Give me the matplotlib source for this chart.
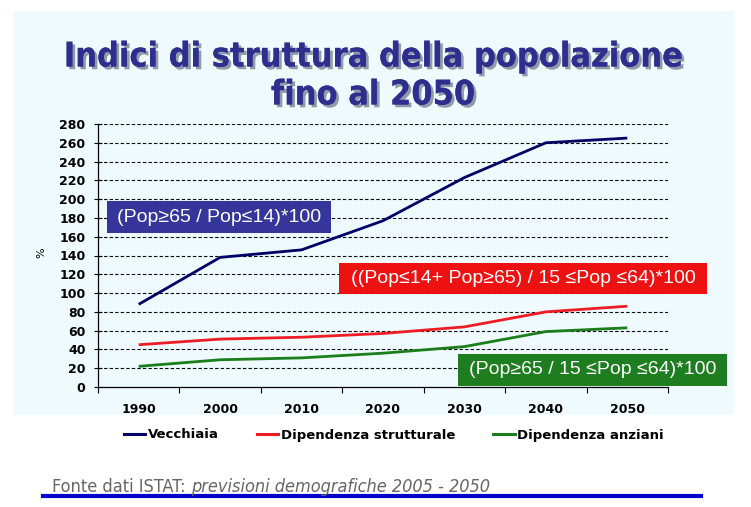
import matplotlib
matplotlib.use("Agg")
import matplotlib.pyplot as plt
from matplotlib.patches import Rectangle
from matplotlib.lines import Line2D
import matplotlib.patheffects as pe

# ---- data ----
years = ["1990", "2000", "2010", "2020", "2030", "2040", "2050"]
vecchiaia = [88, 138, 146, 177, 223, 260, 265]
dip_strutturale = [45, 51, 53, 57, 64, 80, 86]
dip_anziani = [22, 29, 31, 36, 43, 59, 63]
series_names = ["Vecchiaia", "Dipendenza strutturale", "Dipendenza anziani"]
y_ticks = list(range(0, 281, 20))

title_lines = ["Indici di struttura della popolazione", "fino al 2050"]
box_texts = ["(Pop\u226565 / Pop\u226414)*100",
             "((Pop\u226414+ Pop\u226565) / 15 \u2264Pop \u226464)*100",
             "(Pop\u226565 / 15 \u2264Pop \u226464)*100"]
source_plain = "Fonte dati ISTAT: "
source_italic = "previsioni demografiche 2005 - 2050"

W, H = 751, 507
fig = plt.figure(figsize=(W / 100, H / 100), dpi=100)
fig.patch.set_facecolor("white")


def fx(px):
    return px / W


def fy(py):
    return 1 - py / H


# light panel background
fig.patches.append(Rectangle((fx(14), fy(415)), fx(734) - fx(14), fy(11) - fy(415),
                             transform=fig.transFigure, facecolor="#eefafd",
                             edgecolor="none", zorder=-10))

# title
shadow = [pe.withSimplePatchShadow(offset=(2, -2), shadow_rgbFace="#8890a0", alpha=0.9), pe.Normal()]
for txt, yc in zip(title_lines, [57, 95]):
    fig.text(fx(373), fy(yc), txt, ha="center", va="center", color="#2e2e8f",
             fontsize=24.5, fontweight="bold", fontstretch="condensed", family="DejaVu Sans",
             path_effects=shadow)

# axes
ax = fig.add_axes([fx(98), fy(387), fx(668) - fx(98), fy(124) - fy(387)])
ax.set_facecolor("none")
x = list(range(len(years)))
colors = ["#000066", "#ee1c24", "#1b7d1b"]
for vals, c, name in zip([vecchiaia, dip_strutturale, dip_anziani], colors, series_names):
    ax.plot(x, vals, color=c, lw=2.0, label=name, solid_capstyle="butt", zorder=3)

ax.set_xlim(-0.5, len(years) - 0.5)
ax.set_ylim(0, 280)
ax.set_yticks(y_ticks)
ax.set_yticklabels([str(v) for v in y_ticks])
for v in y_ticks[1:]:
    ax.axhline(v, color="black", lw=0.8, ls=(0, (3, 2)), zorder=1)

ax.set_xticks([i - 0.5 for i in range(len(years) + 1)])
ax.set_xticklabels([])
ax.set_xticks(x, minor=True)
ax.set_xticklabels(years, minor=True)
ax.tick_params(axis="x", which="major", direction="out", length=4, width=0.8)
ax.tick_params(axis="x", which="minor", length=0, pad=11.5)
ax.tick_params(axis="y", direction="inout", length=6, width=0.8, pad=6)
for lab in ax.get_yticklabels() + ax.get_xticklabels(minor=True):
    lab.set_fontweight("bold")
    lab.set_fontsize(9)
    lab.set_family("DejaVu Sans")
for s in ["top", "right"]:
    ax.spines[s].set_visible(False)
for s in ["left", "bottom"]:
    ax.spines[s].set_linewidth(0.9)

fig.text(fx(41), fy(253), "%", rotation=90, ha="center", va="center", fontsize=8)

# annotation boxes
boxes = [((107, 201, 331, 233), "#35359a"),
         ((339, 263, 707, 294), "#ee1111"),
         ((458, 354, 727, 386), "#1e7d1e")]
for ((x0, y0, x1, y1), c), txt in zip(boxes, box_texts):
    fig.patches.append(Rectangle((fx(x0), fy(y1)), fx(x1) - fx(x0), fy(y0) - fy(y1),
                                 transform=fig.transFigure, facecolor=c, edgecolor="none",
                                 zorder=5))
    fig.text(fx((x0 + x1) / 2), fy((y0 + y1) / 2), txt, ha="center", va="center",
             color="white", fontsize=14, family=["Liberation Sans", "DejaVu Sans"], zorder=6)

# legend
handles = [Line2D([], [], color=c, lw=2.2) for c in colors]
fig.legend(handles, series_names, loc="center", bbox_to_anchor=(fx(394), fy(435)),
           ncol=3, frameon=False, handlelength=1.6, handletextpad=0.2,
           columnspacing=2.9, prop={"weight": "bold", "size": 9.5, "family": "DejaVu Sans"})

# source
t1 = fig.text(fx(52), fy(492), source_plain, ha="left", va="baseline", color="#666666",
              fontsize=13, fontstretch="condensed", family="DejaVu Sans")
fig.add_artist(matplotlib.text.Annotation(
    source_italic, xy=(1, 0), xycoords=t1, xytext=(0, 0), textcoords="offset points",
    ha="left", va="bottom", color="#666666", fontsize=13, style="italic",
    fontstretch="condensed", family="DejaVu Sans", annotation_clip=False))

fig.add_artist(Line2D([fx(43), fx(701)], [fy(496), fy(496)], color="#0000cc", lw=3.0,
                      transform=fig.transFigure))

fig.savefig("out.png", dpi=100)
